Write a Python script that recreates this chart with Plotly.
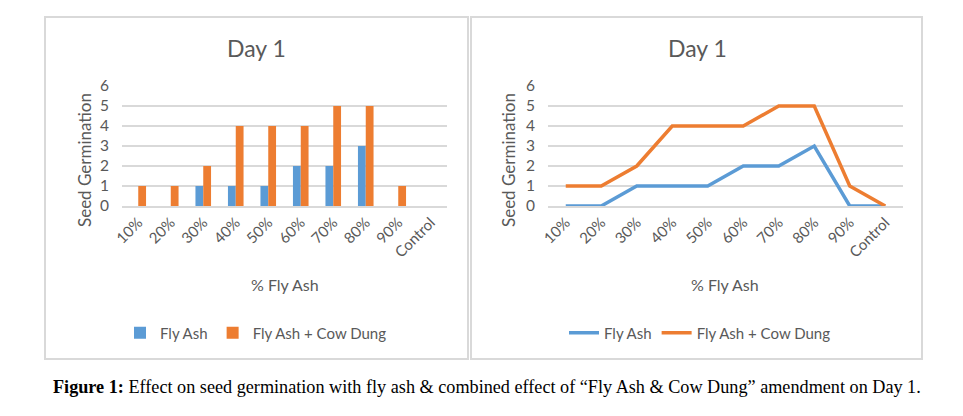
import plotly.graph_objects as go

categories = ["10%", "20%", "30%", "40%", "50%", "60%", "70%", "80%", "90%", "Control"]
fly_ash = [0, 0, 1, 1, 1, 2, 2, 3, 0, 0]
fly_ash_cow_dung = [1, 1, 2, 4, 4, 4, 5, 5, 1, 0]
y_ticks = [0, 1, 2, 3, 4, 5, 6]

W, H = 963, 416
OFF = 8  # page body margin
BLUE = "#5B9BD5"
ORANGE = "#ED7D31"
GRID = "#D9D9D9"
TXT = "#595959"
FONT = "Lato, 'Open Sans', sans-serif"


def px(x):
    return (x - OFF) / W


def py(y):
    return 1 - (y - OFF) / H


fig = go.Figure()

# Bar chart (left)
fig.add_trace(go.Bar(x=categories, y=fly_ash, name="Fly Ash", marker=dict(color=BLUE, line=dict(width=0)),
                     xaxis="x", yaxis="y", legend="legend"))
fig.add_trace(go.Bar(x=categories, y=fly_ash_cow_dung, name="Fly Ash + Cow Dung",
                     marker=dict(color=ORANGE, line=dict(width=0)),
                     xaxis="x", yaxis="y", legend="legend"))

# Line chart (right)
fig.add_trace(go.Scatter(x=categories, y=fly_ash, name="Fly Ash", mode="lines",
                         line=dict(color=BLUE, width=3.5), xaxis="x2", yaxis="y2", legend="legend2"))
fig.add_trace(go.Scatter(x=categories, y=fly_ash_cow_dung, name="Fly Ash + Cow Dung", mode="lines",
                         line=dict(color=ORANGE, width=3.5), xaxis="x2", yaxis="y2", legend="legend2"))

ydom = [py(206), py(86)]
common_x = dict(type="category", range=[-0.5, 9.5], tickangle=-45, showgrid=False,
                showline=True, linecolor=GRID, linewidth=2, ticks="", automargin=False,
                tickfont=dict(family=FONT, size=15, color=TXT), fixedrange=True)
common_y = dict(range=[0, 6], tickvals=y_ticks, showgrid=True, gridcolor=GRID, gridwidth=2,
                zeroline=False, showline=False, ticks="", ticklabelstandoff=12, automargin=False,
                tickfont=dict(family=FONT, size=15.5, color=TXT), fixedrange=True)

fig.update_layout(
    template="none",
    width=W, height=H,
    margin=dict(l=0, r=0, t=0, b=0, pad=0),
    paper_bgcolor="white", plot_bgcolor="white",
    barmode="group", bargap=0.52, bargroupgap=0,
    xaxis=dict(domain=[px(122), px(447)], anchor="y", **common_x),
    yaxis=dict(domain=ydom, anchor="x", **common_y),
    xaxis2=dict(domain=[px(548), px(903)], anchor="y2", **common_x),
    yaxis2=dict(domain=ydom, anchor="x2", **common_y),
    legend=dict(orientation="h", x=px(256), y=py(333), xanchor="center", yanchor="middle",
                font=dict(family=FONT, size=15, color=TXT), bgcolor="rgba(0,0,0,0)", itemwidth=30),
    legend2=dict(orientation="h", x=px(700), y=py(333), xanchor="center", yanchor="middle",
                 font=dict(family=FONT, size=15, color=TXT), bgcolor="rgba(0,0,0,0)", itemwidth=30),
    showlegend=True,
)

# Panel borders
for x0, x1 in [(45, 468), (471, 922)]:
    fig.add_shape(type="rect", xref="paper", yref="paper", x0=px(x0), x1=px(x1), y0=py(359), y1=py(17),
                  line=dict(color=GRID, width=2), fillcolor="rgba(0,0,0,0)", layer="below")

# Titles and axis titles
for cx, ax_x, yt_x in [(257, 285, 84), (697, 725, 508)]:
    fig.add_annotation(text="Day 1", x=px(cx), y=py(48), xref="paper", yref="paper",
                       showarrow=False, font=dict(family=FONT, size=23, color=TXT),
                       xanchor="center", yanchor="middle")
    fig.add_annotation(text="% Fly Ash", x=px(ax_x), y=py(284), xref="paper", yref="paper",
                       showarrow=False, font=dict(family=FONT, size=16, color=TXT),
                       xanchor="center", yanchor="middle")
    fig.add_annotation(text="Seed Germination", x=px(yt_x), y=py(160), xref="paper", yref="paper",
                       showarrow=False, textangle=-90, font=dict(family=FONT, size=17, color=TXT),
                       xanchor="center", yanchor="middle")

fig.add_annotation(
    text="<b>Figure 1:</b> Effect on seed germination with fly ash &amp; combined effect of \u201cFly Ash &amp; Cow Dung\u201d amendment on Day 1.",
    x=px(487), y=py(387), xref="paper", yref="paper", showarrow=False,
    font=dict(family="'Liberation Serif', 'Times New Roman', serif", size=18.2, color="black"),
    xanchor="center", yanchor="middle")

fig.write_html("out.html")
